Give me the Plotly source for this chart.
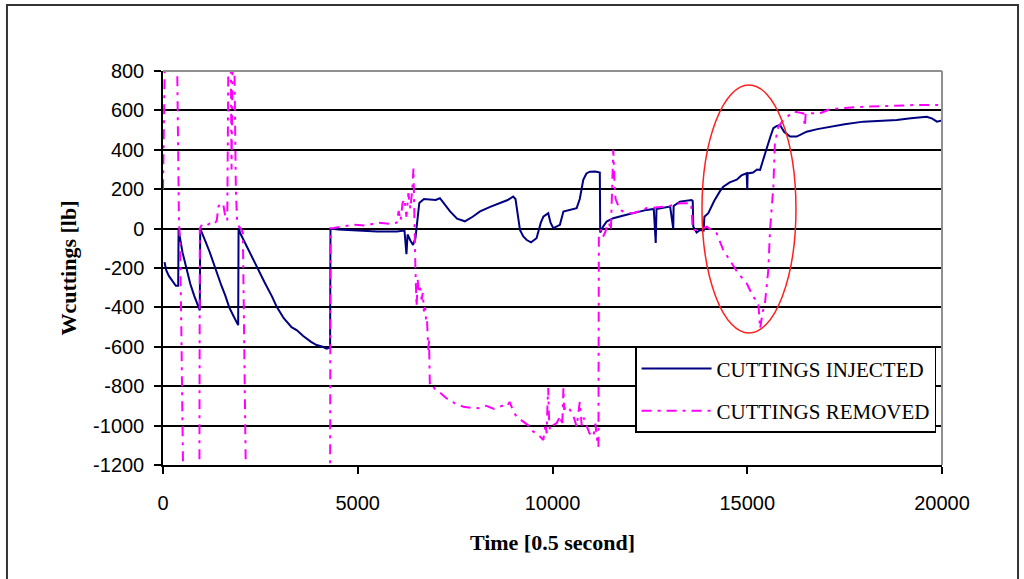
import plotly.graph_objects as go

# ---- data ----
inj_x = [40, 80, 150, 250, 330, 390, 400, 430, 500, 600, 700, 800, 900, 945, 955, 1000, 1100, 1200,
         1300, 1400, 1500, 1600, 1700, 1800, 1900, 1930, 1940, 2000, 2200, 2400, 2600, 2800, 2920,
         3100, 3300, 3430, 3600, 3800, 3945, 4100, 4200, 4280, 4290, 4300, 4500, 5000, 5500, 6000,
         6200, 6250, 6280, 6350, 6420, 6480, 6580, 6700, 7000, 7110, 7250, 7370, 7550, 7750, 7950,
         8140, 8400, 8650, 8850, 8990, 9050, 9165, 9250, 9340, 9450, 9590, 9700, 9765, 9890, 9950,
         10020, 10100, 10190, 10280, 10450, 10620, 10700, 10790, 10870, 10960, 11100, 11215, 11225,
         11300, 11390, 11560, 11900, 12100, 12420, 12600, 12650, 12670, 12900, 13020, 13100, 13110,
         13270, 13570, 13600, 13615, 13700, 13785, 13880, 13900, 14000, 14150, 14300, 14385, 14550,
         14730, 14850, 14985, 15000, 15010, 15150, 15250, 15330, 15420, 15500, 15600, 15670, 15750,
         15840, 15950, 16100, 16270, 16400, 16525, 16800, 17125, 17500, 17980, 18400, 18840, 19200,
         19610, 19750, 19870, 20000, 20100]
inj_y = [-170, -210, -240, -265, -290, -290, 0, -40, -120, -200, -280, -340, -400, -415, 0, -20, -70, -120,
         -180, -240, -290, -340, -400, -440, -480, -490, 0, -30, -110, -192, -270, -345, -397,
         -455, -500, -515, -545, -575, -591, -600, -610, -605, -600, 0, -5, -10, -15, -15,
         -10, -130, -30, -60, -83, -50, 130, 150, 145, 154, 120, 87, 50, 37, 60,
         87, 110, 129, 145, 163, 150, -7, -40, -58, -70, -49, 30, 61, 78, 30,
         2, 10, 19, 87, 95, 104, 150, 248, 280, 289, 290, 285, -20,
         10, 36, 53, 70, 80, 95, 100, -73, 100, 110, 112, 0, 115,
         137, 145, 140, 10, -20, -7, -10, 60, 78, 140, 190, 213, 235,
         248, 270, 281, 196, 280, 285, 300, 298, 360, 408, 470, 510, 520,
         526, 490, 467, 467, 480, 492, 505, 517, 530, 543, 548, 551, 560,
         568, 558, 543, 549, 551]

rem_x = [0, 30, 50, 360, 375, 385, 395, 410, 420, 440, 470, 500, 520, 935, 945, 1000, 1100, 1200, 1300,
         1380, 1420, 1480, 1550, 1600, 1650, 1680, 1740, 1760, 1790, 1830, 1870, 1900, 1950, 2000,
         2050, 2130, 4290, 4300, 4600, 4900, 5200, 5500, 5800, 6000, 6050, 6100, 6150, 6200, 6250,
         6300, 6350, 6400, 6430, 6450, 6480, 6510, 6540, 6560, 6600, 6640, 6670, 6700, 6730, 6760,
         6780, 6810, 6830, 6850, 6900, 6940, 7000, 7100, 7200, 7280, 7400, 7500, 7600, 7710, 7900,
         8140, 8300, 8500, 8700, 8820, 8900, 9000, 9080, 9250, 9420, 9500, 9600, 9700, 9765, 9820,
         9850, 9870, 9890, 9910, 9935, 10000, 10105, 10200, 10250, 10280, 10300, 10350, 10450, 10550,
         10620, 10700, 10750, 10800, 10880, 10950, 11050, 11100, 11150, 11180, 11190, 11250, 11300,
         11350, 11400, 11450, 11500, 11560, 11600, 11620, 11680, 11730, 11900, 12070, 12250, 12420,
         12700, 12930, 13100, 13270, 13560, 13600, 13785, 13960, 14100, 14215, 14385, 14555, 14770,
         14985, 15155, 15285, 15330, 15400, 15455, 15540, 15585, 15670, 15710, 15800, 15925, 16185,
         16440, 16480, 16500, 16865, 17125, 17500, 17980, 18500, 19260, 20100]
rem_y = [200, 500, 900, 900, 600, 300, 100, 30, 0, -100, -500, -900, -1300, -1300, 0, 20, 15, 25, 20,
         40, 110, 130, 120, 60, 40, 900, 900, 300, 900, 900, 200, 50, 10, 0,
         -20, -1300, -1300, 0, 10, 20, 15, 30, 25, 30, 90, 40, 130, 150, 60,
         180, 100, 200, 306, 50, -200, -395, -260, -320, -300, -360, -327, -420, -400, -480,
         -470, -615, -560, -785, -780, -803, -820, -830, -850, -862, -870, -890, -895, -904, -910,
         -912, -900, -915, -900, -904, -880, -930, -955, -980, -1005, -1030, -1040, -1060, -1073, -990,
         -1040, -900, -809, -960, -1022, -1000, -988, -950, -1000, -809, -920, -900, -920, -960,
         -1005, -880, -1000, -960, -1005, -1040, -1056, -990, -1080, -1107, -22, -5, -40,
         -20, 10, 30, -10, 400, 200, 150, 120, 95, 80, 78, 90, 104,
         108, 112, 120, 129, 129, -7, -7, 10, -10, -24, -109, -160, -228,
         -278, -346, -380, -507, -420, -380, -211, -7, 213, 433, 517, 551, 594,
         585, 517, 585, 585, 606, 612, 619, 622, 627, 627]

x_ticks = [0, 5000, 10000, 15000, 20000]
y_ticks = [-1200, -1000, -800, -600, -400, -200, 0, 200, 400, 600, 800]

fig = go.Figure()
fig.add_trace(go.Scatter(x=inj_x, y=inj_y, mode="lines", name="CUTTINGS INJECTED",
                         legendgroup="a",
                         line=dict(color="#000080", width=2)))
fig.add_trace(go.Scatter(x=rem_x, y=rem_y, mode="lines", name="CUTTINGS REMOVED",
                         legendgroup="b",
                         line=dict(color="#ff00ff", width=2, dash="10px,6px,3px,6px")))

tick_font = dict(family="Liberation Sans, Arial, sans-serif", size=20, color="black")
title_font = dict(family="Liberation Serif, Times New Roman, serif", size=22, color="black")

fig.update_layout(
    width=1024, height=579, autosize=False,
    margin=dict(l=163, r=82, t=71, b=114),
    paper_bgcolor="white", plot_bgcolor="white",
    showlegend=True,
    legend=dict(x=0.606, y=0.30, xanchor="left", yanchor="top",
                bgcolor="white", bordercolor="black", borderwidth=1.5,
                font=dict(family="Liberation Serif, Times New Roman, serif", size=21, color="black"),
                tracegroupgap=12, traceorder="grouped", itemwidth=70),
    xaxis=dict(range=[0, 20000], tickvals=x_ticks, ticktext=[str(v) for v in x_ticks],
               showgrid=False, zeroline=False, showline=True, linecolor="black", linewidth=1.5,
               ticks="outside", ticklen=7, tickcolor="black", tickwidth=1.5,
               tickfont=tick_font, ticklabelstandoff=12,
               title=dict(text="<b>Time [0.5 second]</b>", font=title_font, standoff=22)),
    yaxis=dict(range=[-1200, 800], tickvals=y_ticks, ticktext=[str(v) for v in y_ticks],
               showgrid=True, gridcolor="black", gridwidth=1.5, zeroline=False,
               showline=True, linecolor="black", linewidth=1.5,
               ticks="outside", ticklen=7, tickcolor="black", tickwidth=1.5,
               tickfont=tick_font, ticklabelstandoff=6,
               title=dict(text="<b>Wcuttings [lb]</b>", font=title_font, standoff=10)),
    shapes=[
        # grey top and right plot border
        dict(type="line", xref="paper", yref="paper", x0=0, x1=1, y0=1, y1=1,
             line=dict(color="#909090", width=2), layer="above"),
        dict(type="line", xref="paper", yref="paper", x0=1, x1=1, y0=0, y1=1,
             line=dict(color="#909090", width=2), layer="above"),
        # red ellipse highlight
        dict(type="circle", xref="x", yref="y", x0=13838, x1=16251, y0=-530, y1=729,
             line=dict(color="#ff2020", width=1.5), layer="above"),
        # outer frame
        dict(type="rect", xref="paper", yref="paper", x0=-0.2003, x1=1.0976, y0=-0.33, y1=1.1675,
             line=dict(color="#333333", width=2)),
    ],
)

fig.write_html("out.html")
